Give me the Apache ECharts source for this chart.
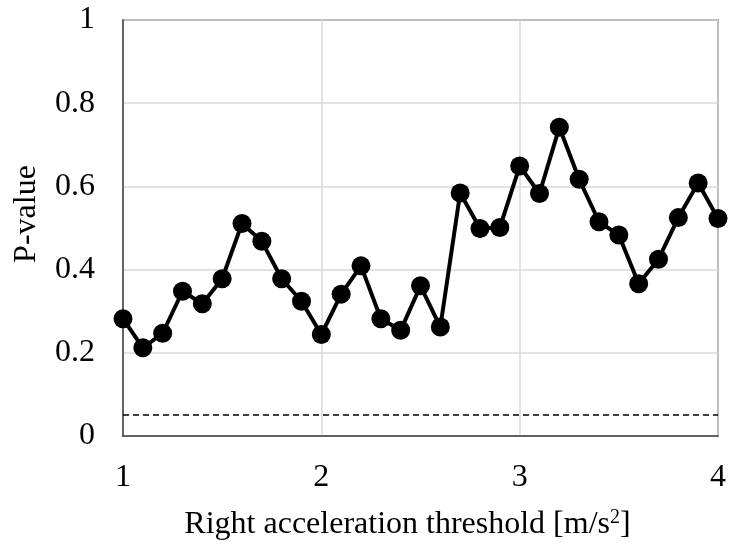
<!DOCTYPE html>
<html>
<head>
<meta charset="utf-8">
<script src="https://cdn.jsdelivr.net/npm/echarts@6/dist/echarts.min.js"></script>
<style>html,body{margin:0;padding:0;background:#fff}#c{width:729px;height:547px}</style>
</head>
<body>
<div id="c"></div>
<script>
const thresholds = [1.0,1.1,1.2,1.3,1.4,1.5,1.6,1.7,1.8,1.9,2.0,2.1,2.2,2.3,2.4,2.5,2.6,2.7,2.8,2.9,3.0,3.1,3.2,3.3,3.4,3.5,3.6,3.7,3.8,3.9,4.0];
const pValues = [0.282,0.212,0.247,0.348,0.318,0.378,0.511,0.468,0.378,0.324,0.244,0.341,0.409,0.282,0.254,0.361,0.262,0.584,0.499,0.501,0.649,0.583,0.742,0.617,0.515,0.483,0.366,0.425,0.525,0.608,0.523];
const significance = 0.05;
const xTicks = [1,2,3,4];
const yTicks = [0,0.2,0.4,0.6,0.8,1];

const font = '"Liberation Serif", "Times New Roman", serif';
const chart = echarts.init(document.getElementById('c'), null, {renderer:'canvas'});
chart.setOption({
  animation:false,
  backgroundColor:'#fff',
  grid:{left:123,right:11,top:20,bottom:111,containLabel:false,outerBoundsMode:'none',show:true,borderColor:'#444',borderWidth:1.5,backgroundColor:'transparent'},
  xAxis:{
    type:'value',min:xTicks[0],max:xTicks[xTicks.length-1],interval:1,
    name:'Right acceleration threshold [m/s{sup|2}]',
    nameLocation:'middle',nameGap:72,
    nameTextStyle:{fontFamily:font,fontSize:32,color:'#000',padding:[0,26,0,0],
      rich:{sup:{fontFamily:font,fontSize:20,color:'#000',verticalAlign:'top',padding:[0,0,14,0]}}},
    axisLine:{show:true,lineStyle:{color:'#444',width:1.5}},
    axisTick:{show:false},
    axisLabel:{fontFamily:font,fontSize:32,color:'#000',margin:26},
    splitLine:{show:true,lineStyle:{color:'#d9d9d9',width:1.5}}
  },
  yAxis:{
    type:'value',min:yTicks[0],max:yTicks[yTicks.length-1],interval:0.2,
    name:'P-value',nameLocation:'middle',nameGap:80,
    nameTextStyle:{fontFamily:font,fontSize:32,color:'#000',padding:[0,0,0,28]},
    axisLine:{show:true,lineStyle:{color:'#444',width:1.5}},
    axisTick:{show:false},
    axisLabel:{fontFamily:font,fontSize:32,color:'#000',margin:28},
    splitLine:{show:true,lineStyle:{color:'#d9d9d9',width:1.5}}
  },
  series:[{
    type:'line',
    data:thresholds.map((x,i)=>[x,pValues[i]]),
    symbol:'circle',symbolSize:19,
    lineStyle:{color:'#000',width:4},
    itemStyle:{color:'#000'},
    clip:false,
    markLine:{
      silent:true,symbol:'none',label:{show:false},
      lineStyle:{color:'#000',type:[6,4],width:1.5},
      data:[{yAxis:significance}]
    }
  }]
});
</script>
</body>
</html>
